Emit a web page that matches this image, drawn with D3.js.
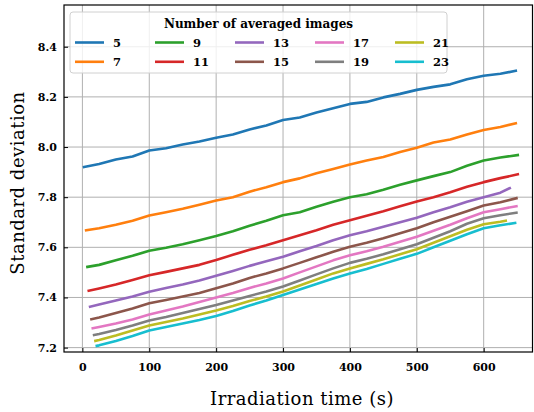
<!DOCTYPE html>
<html>
<head>
<meta charset="utf-8">
<title>Standard deviation vs irradiation time</title>
<script src="https://cdn.jsdelivr.net/npm/d3@7"></script>
<style>
    body { margin: 0; background: #fff; }
    text { font-family: "DejaVu Serif", serif; fill: #000; }
    .tick text { font-size: 11px; font-weight: bold; }
    .grid line { stroke: #b0b0b0; stroke-width: 1; }
    .axis-title { font-size: 18px; letter-spacing: 0.5px; }
</style>
</head>
<body>
<svg id="chart" width="534" height="412"></svg>
<script>
// averaged image counts, one line each
var counts = [5, 7, 9, 11, 13, 15, 17, 19, 21, 23];
var colors = ["#1f77b4", "#ff7f0e", "#2ca02c", "#d62728", "#9467bd",
              "#8c564b", "#e377c2", "#7f7f7f", "#bcbd22", "#17becf"];

// each series: start time, shared grid 25..625, end time
var startTimes = [2.5, 5.6, 7.5, 9.5, 11.5, 13.5, 15.5, 17.5, 19.5, 21.5];
var endTimes = [648, 648, 651, 651, 639, 649, 649, 649, 633, 647];
var gridTimes = [25, 50, 75, 100, 125, 150, 175, 200, 225, 250, 275, 300, 325,
                 350, 375, 400, 425, 450, 475, 500, 525, 550, 575, 600, 625];

var sd5 = [7.920, 7.932, 7.950, 7.962, 7.986, 7.995, 8.010, 8.022, 8.037, 8.050, 8.070, 8.086, 8.108, 8.118,
           8.138, 8.155, 8.172, 8.180, 8.198, 8.212, 8.228, 8.240, 8.250, 8.270, 8.284, 8.292, 8.304];
var sd7 = [7.668, 7.676, 7.690, 7.706, 7.727, 7.740, 7.754, 7.770, 7.787, 7.800, 7.822, 7.840, 7.860, 7.875,
           7.895, 7.912, 7.930, 7.946, 7.960, 7.980, 7.997, 8.018, 8.030, 8.050, 8.068, 8.080, 8.095];
var sd9 = [7.522, 7.530, 7.548, 7.566, 7.586, 7.598, 7.612, 7.628, 7.645, 7.664, 7.686, 7.706, 7.728, 7.740,
           7.762, 7.782, 7.800, 7.812, 7.830, 7.850, 7.867, 7.884, 7.900, 7.925, 7.946, 7.958, 7.968];
var sd11 = [7.427, 7.436, 7.452, 7.470, 7.489, 7.502, 7.516, 7.530, 7.549, 7.570, 7.590, 7.608, 7.628, 7.648,
            7.668, 7.690, 7.708, 7.726, 7.744, 7.764, 7.783, 7.800, 7.820, 7.842, 7.860, 7.876, 7.891];
var sd13 = [7.363, 7.372, 7.388, 7.404, 7.423, 7.438, 7.452, 7.468, 7.487, 7.506, 7.526, 7.544, 7.562, 7.584,
            7.605, 7.628, 7.648, 7.664, 7.682, 7.700, 7.718, 7.740, 7.760, 7.782, 7.800, 7.818, 7.836];
var sd15 = [7.313, 7.320, 7.338, 7.356, 7.377, 7.390, 7.404, 7.418, 7.437, 7.456, 7.478, 7.496, 7.516, 7.538,
            7.560, 7.582, 7.602, 7.618, 7.636, 7.656, 7.676, 7.700, 7.722, 7.744, 7.767, 7.780, 7.796];
var sd17 = [7.277, 7.282, 7.296, 7.312, 7.332, 7.348, 7.364, 7.382, 7.400, 7.418, 7.438, 7.456, 7.476, 7.500,
            7.524, 7.548, 7.568, 7.584, 7.602, 7.622, 7.642, 7.666, 7.690, 7.716, 7.740, 7.752, 7.764];
var sd19 = [7.250, 7.254, 7.270, 7.288, 7.308, 7.322, 7.338, 7.354, 7.370, 7.388, 7.406, 7.424, 7.444, 7.468,
            7.492, 7.516, 7.538, 7.554, 7.572, 7.592, 7.612, 7.638, 7.664, 7.694, 7.716, 7.728, 7.738];
var sd21 = [7.227, 7.230, 7.248, 7.268, 7.288, 7.302, 7.316, 7.332, 7.348, 7.366, 7.386, 7.404, 7.424, 7.448,
            7.472, 7.496, 7.516, 7.534, 7.552, 7.572, 7.592, 7.618, 7.644, 7.670, 7.692, 7.702, 7.706];
var sd23 = [7.207, 7.209, 7.226, 7.246, 7.268, 7.282, 7.296, 7.310, 7.326, 7.346, 7.368, 7.388, 7.410, 7.432,
            7.454, 7.476, 7.496, 7.514, 7.534, 7.554, 7.574, 7.600, 7.626, 7.652, 7.676, 7.688, 7.697];

var allValues = [sd5, sd7, sd9, sd11, sd13, sd15, sd17, sd19, sd21, sd23];

var xTicks = [0, 100, 200, 300, 400, 500, 600];
var yTicks = [7.2, 7.4, 7.6, 7.8, 8.0, 8.2, 8.4];

var series = counts.map(function(n, i) {
    var t = [startTimes[i]].concat(gridTimes, [endTimes[i]]);
    return {
        n: n,
        color: colors[i],
        points: t.map(function(tt, j) { return [tt, allValues[i][j]]; })
    };
});

var svg = d3.select("#chart");
// plot box (note: "top" is taken by window.top, so prefix)
var pLeft = 64, pTop = 5, pRight = 532.5, pBottom = 352;

var x = d3.scaleLinear().domain([-27.5, 673]).range([pLeft, pRight]);
var y = d3.scaleLinear().domain([7.1825, 8.5665]).range([pBottom, pTop]);

// grid
var grid = svg.append("g").attr("class", "grid");
grid.selectAll(".gx").data(xTicks).enter().append("line")
    .attr("x1", function(d) { return x(d); }).attr("x2", function(d) { return x(d); })
    .attr("y1", pTop).attr("y2", pBottom);
grid.selectAll(".gy").data(yTicks).enter().append("line")
    .attr("y1", function(d) { return y(d); }).attr("y2", function(d) { return y(d); })
    .attr("x1", pLeft).attr("x2", pRight);

// lines
var line = d3.line()
    .x(function(d) { return x(d[0]); })
    .y(function(d) { return y(d[1]); });

svg.append("g").selectAll("path").data(series).enter().append("path")
    .attr("d", function(d) { return line(d.points); })
    .attr("fill", "none")
    .attr("stroke", function(d) { return d.color; })
    .attr("stroke-width", 2.6)
    .attr("stroke-linejoin", "round")
    .attr("stroke-linecap", "square");

// axes, ticks pointing inwards
var xAxis = svg.append("g").attr("transform", "translate(0," + pBottom + ")")
    .call(d3.axisBottom(x).tickValues(xTicks).tickFormat(d3.format("d")).tickSizeInner(-4).tickSizeOuter(0).tickPadding(11));
var yAxis = svg.append("g").attr("transform", "translate(" + pLeft + ",0)")
    .call(d3.axisLeft(y).tickValues(yTicks).tickFormat(d3.format(".1f")).tickSizeInner(-4).tickSizeOuter(0).tickPadding(7));
[xAxis, yAxis].forEach(function(a) {
    a.select(".domain").remove();
    a.selectAll(".tick line").attr("stroke", "#000").attr("stroke-width", 1);
    a.selectAll(".tick text").attr("font-family", null).attr("font-size", null);
});

// frame
svg.append("rect")
    .attr("x", pLeft).attr("y", pTop)
    .attr("width", pRight - pLeft).attr("height", pBottom - pTop)
    .attr("fill", "none").attr("stroke", "#000").attr("stroke-width", 1.2);

// axis titles
svg.append("text")
    .attr("class", "axis-title")
    .attr("x", 302).attr("y", 405)
    .attr("text-anchor", "middle")
    .text("Irradiation time (s)");
svg.append("text")
    .attr("class", "axis-title")
    .attr("transform", "translate(24,183) rotate(-90)")
    .attr("text-anchor", "middle")
    .text("Standard deviation");

// legend
var lg = svg.append("g");
lg.append("rect")
    .attr("x", 70).attr("y", 12).attr("width", 377).attr("height", 61)
    .attr("rx", 3)
    .attr("fill", "#fff").attr("fill-opacity", 0.8)
    .attr("stroke", "#d0d0d0").attr("stroke-width", 1);
lg.append("text")
    .attr("x", 258.5).attr("y", 27.5)
    .attr("text-anchor", "middle")
    .style("font-size", "12px").style("font-weight", "bold")
    .text("Number of averaged images");

var item = lg.selectAll(".item").data(series).enter().append("g")
    .attr("transform", function(d, i) {
        var col = Math.floor(i / 2), row = i % 2;
        return "translate(" + (75 + col * 80) + "," + (42.5 + row * 19.3) + ")";
    });
item.append("line")
    .attr("x1", 0).attr("x2", 29)
    .attr("stroke", function(d) { return d.color; })
    .attr("stroke-width", 2.6);
item.append("text")
    .attr("x", 38).attr("y", 4)
    .style("font-size", "11.5px").style("font-weight", "bold")
    .text(function(d) { return d.n; });
</script>
</body>
</html>
